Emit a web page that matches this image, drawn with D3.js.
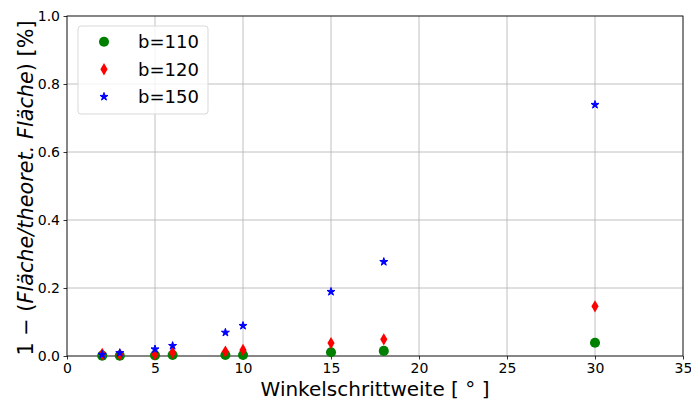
<!DOCTYPE html>
<html>
<head>
<meta charset="utf-8">
<script src="https://cdn.jsdelivr.net/npm/d3@7"></script>
<style>
  body { margin: 0; background: #fff; }
  text { font-family: "DejaVu Sans", sans-serif; }
</style>
</head>
<body>
<div id="chart"></div>
<script>
// step widths (x) and relative area error per b
var steps = [2, 3, 5, 6, 9, 10, 15, 18, 30];
var b110 = [0.001, 0.001, 0.002, 0.003, 0.003, 0.003, 0.011, 0.015, 0.039];
var b120 = [0.006, 0.004, 0.005, 0.010, 0.013, 0.018, 0.038, 0.049, 0.146];
var b150 = [0.004, 0.009, 0.020, 0.030, 0.069, 0.089, 0.189, 0.277, 0.739];
var xTicks = [0, 5, 10, 15, 20, 25, 30, 35];
var yTicks = [0, 0.2, 0.4, 0.6, 0.8, 1.0];
var seriesNames = ["b=110", "b=120", "b=150"];

var W = 691, H = 401;
var margin = {top: 16, right: 8, bottom: 45, left: 67};

var svg = d3.select("#chart").append("svg")
    .attr("width", W)
    .attr("height", H);

var x = d3.scaleLinear().domain([0, 35]).range([margin.left, W - margin.right]);
var y = d3.scaleLinear().domain([0, 1]).range([H - margin.bottom, margin.top]);

// grid
svg.append("g").selectAll("line.gx")
  .data(xTicks).enter().append("line")
    .attr("x1", d => x(d)).attr("x2", d => x(d))
    .attr("y1", y(0)).attr("y2", y(1))
    .style("stroke", "#b0b0b0").style("stroke-width", 0.8);
svg.append("g").selectAll("line.gy")
  .data(yTicks).enter().append("line")
    .attr("x1", x(0)).attr("x2", x(35))
    .attr("y1", d => y(d)).attr("y2", d => y(d))
    .style("stroke", "#b0b0b0").style("stroke-width", 0.8);

// axes
var xAxis = svg.append("g")
    .attr("transform", "translate(0," + y(0) + ")")
    .call(d3.axisBottom(x).tickValues(xTicks).tickSize(3.5).tickPadding(3.5).tickFormat(d3.format("d")));
var yAxis = svg.append("g")
    .attr("transform", "translate(" + x(0) + ",0)")
    .call(d3.axisLeft(y).tickValues(yTicks).tickSize(3.5).tickPadding(3.5).tickFormat(d3.format(".1f")));
[xAxis, yAxis].forEach(function(a) {
  a.select(".domain").remove();
  a.selectAll("line").style("stroke", "#000").style("stroke-width", 0.8);
  a.selectAll("text").style("font-family", "DejaVu Sans").style("font-size", "14px").style("fill", "#000");
});

// frame
svg.append("rect")
    .attr("x", x(0)).attr("y", y(1))
    .attr("width", x(35) - x(0)).attr("height", y(0) - y(1))
    .style("fill", "none").style("stroke", "#000").style("stroke-width", 0.8);

// markers
var circle = d3.symbol().type(d3.symbolCircle).size(80);
var star = d3.symbol().type(d3.symbolStar).size(20);
function diamond(s) {
  var w = 3.6 * s, h = 6.2 * s;
  return "M0," + (-h) + "L" + w + ",0L0," + h + "L" + (-w) + ",0Z";
}

var plot = svg.append("g");
plot.selectAll(".p110").data(steps).enter().append("path")
    .attr("transform", (d, i) => "translate(" + x(d) + "," + y(b110[i]) + ")")
    .attr("d", circle).style("fill", "green");
plot.selectAll(".p120").data(steps).enter().append("path")
    .attr("transform", (d, i) => "translate(" + x(d) + "," + y(b120[i]) + ")")
    .attr("d", diamond(1)).style("fill", "red");
plot.selectAll(".p150").data(steps).enter().append("path")
    .attr("transform", (d, i) => "translate(" + x(d) + "," + y(b150[i]) + ")")
    .attr("d", star).style("fill", "blue").style("stroke", "blue").style("stroke-width", 1);

// axis labels
svg.append("text")
    .attr("x", (x(0) + x(35)) / 2)
    .attr("y", 396)
    .attr("text-anchor", "middle")
    .style("font-size", "20px")
    .text("Winkelschrittweite [ ° ]");

var yl = svg.append("text")
    .attr("transform", "translate(33,188) rotate(-90)")
    .attr("text-anchor", "middle")
    .style("font-size", "20.8px");
yl.append("tspan").text("1 − (");
yl.append("tspan").style("font-style", "italic").text("Fläche/theoret. Fläche");
yl.append("tspan").text(") [%]");

// legend
var legend = svg.append("g").attr("transform", "translate(78,26)");
legend.append("rect")
    .attr("width", 130).attr("height", 88).attr("rx", 3)
    .style("fill", "#fff").style("fill-opacity", 0.8)
    .style("stroke", "#d9d9d9").style("stroke-width", 1);
var legendMarks = [circle(), diamond(1), star()];
var legendColors = ["green", "red", "blue"];
var row = legend.selectAll(".legend").data(seriesNames).enter().append("g")
    .attr("class", "legend")
    .attr("transform", (d, i) => "translate(26," + (15.7 + i * 27.5) + ")");
row.append("path")
    .attr("d", (d, i) => legendMarks[i])
    .style("fill", (d, i) => legendColors[i])
    .style("stroke", (d, i) => i === 2 ? "blue" : "none")
    .style("stroke-width", 1);
row.append("text")
    .attr("x", 34).attr("dy", "0.35em")
    .style("font-size", "18px")
    .text(d => d);
</script>
</body>
</html>
